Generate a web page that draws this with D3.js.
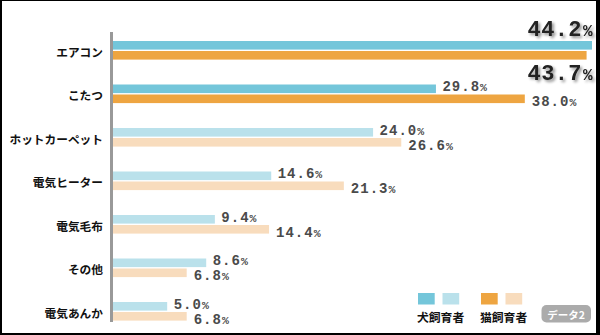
<!DOCTYPE html>
<html>
<head>
<meta charset="utf-8">
<script src="https://cdn.jsdelivr.net/npm/d3@7"></script>
<style>
  html, body { margin: 0; padding: 0; background: #fff; }
  svg { display: block; }
</style>
</head>
<body>
<div id="chart"></div>
<script>
// Heating appliances used by dog owners vs. cat owners (%)
const categories = ["エアコン", "こたつ", "ホットカーペット", "電気ヒーター", "電気毛布", "その他", "電気あんか"];
const dogValues = [44.2, 29.8, 24.0, 14.6, 9.4, 8.6, 5.0];
const catValues = [43.7, 38.0, 26.6, 21.3, 14.4, 6.8, 6.8];
const seriesNames = ["犬飼育者", "猫飼育者"];
const highlightCount = 2;   // top rows drawn in strong colours
const badgeText = "データ2";

const W = 600, H = 335;
const colors = {
  dogStrong: "#74C6DA", dogSoft: "#BAE1EB",
  catStrong: "#EEA541", catSoft: "#F8DCBD"
};

const svg = d3.select("#chart").append("svg")
  .attr("width", W).attr("height", H);

// frame
svg.append("rect").attr("x", 0).attr("y", 0).attr("width", W).attr("height", H).attr("fill", "#000");
svg.append("rect").attr("x", 2).attr("y", 1).attr("width", 594).attr("height", 332).attr("fill", "#fff");

const defs = svg.append("defs");
const shadow = defs.append("filter").attr("id", "txtShadow")
  .attr("x", "-20%").attr("y", "-40%").attr("width", "150%").attr("height", "200%");
shadow.append("feGaussianBlur").attr("in", "SourceAlpha").attr("stdDeviation", 1.4).attr("result", "b");
shadow.append("feOffset").attr("in", "b").attr("dx", 2).attr("dy", 2).attr("result", "o");
shadow.append("feComponentTransfer").attr("in", "o").attr("result", "s")
  .append("feFuncA").attr("type", "linear").attr("slope", 0.45);
const merge = shadow.append("feMerge");
merge.append("feMergeNode").attr("in", "s");
merge.append("feMergeNode").attr("in", "SourceGraphic");

const x = d3.scaleLinear().domain([0, 44.2]).range([113, 592]);
const step = 43.5;
const y = d3.scaleBand().domain(categories)
  .range([41, 41 + step * categories.length]).padding(0);

const barH = 8.6, catOffset = 10;
const rows = categories.map((c, i) => ({ cat: c, i, dog: dogValues[i], catV: catValues[i] }));

// category labels
svg.append("g").selectAll("text").data(rows).join("text")
  .attr("x", 103).attr("y", d => y(d.cat) + 10)
  .attr("text-anchor", "end").attr("dominant-baseline", "central")
  .attr("font-family", "'Noto Sans CJK JP', sans-serif")
  .attr("font-weight", "bold").attr("font-size", 11.7).attr("fill", "#111")
  .text(d => d.cat);

// bars
const g = svg.append("g");
g.selectAll("rect.dog").data(rows).join("rect").attr("class", "dog")
  .attr("x", x(0)).attr("y", d => y(d.cat))
  .attr("width", d => x(d.dog) - x(0)).attr("height", barH)
  .attr("fill", d => d.i < highlightCount ? colors.dogStrong : colors.dogSoft);
g.selectAll("rect.cat").data(rows).join("rect").attr("class", "cat")
  .attr("x", x(0)).attr("y", d => y(d.cat) + catOffset)
  .attr("width", d => x(d.catV) - x(0)).attr("height", barH)
  .attr("fill", d => d.i < highlightCount ? colors.catStrong : colors.catSoft);

// axis line
svg.append("line").attr("x1", 111.5).attr("x2", 111.5).attr("y1", 32).attr("y2", 322)
  .attr("stroke", "#999").attr("stroke-width", 3);

// value labels
function addLabel(sel, val, px, py, size, pctSize, fill, big) {
  const t = sel.append("text").attr("x", px).attr("y", py)
    .attr("font-family", "'Liberation Mono', 'Courier New', monospace")
    .attr("font-weight", "bold").attr("fill", fill)
    .attr("letter-spacing", big ? 0.4 : 1);
  if (big) t.attr("text-anchor", "end").attr("filter", "url(#txtShadow)");
  t.append("tspan").attr("font-size", size).text(val.toFixed(1));
  t.append("tspan").attr("font-size", pctSize).attr("dx", big ? 1 : 0).text("%");
}

const labels = svg.append("g");
rows.forEach(d => {
  const top = y(d.cat);
  if (d.i === 0) {
    addLabel(labels, d.dog, x(d.dog) + 1, top - 5.5, 22, 16, "#222", true);
    addLabel(labels, d.catV, x(d.dog) + 1, top + 39, 22, 16, "#222", true);
  } else {
    addLabel(labels, d.dog, x(d.dog) + 6.5, top + 6.5, 14, 11.5, "#4a4a4a", false);
    addLabel(labels, d.catV, x(d.catV) + 7, top + 21.5, 14, 11.5, "#4a4a4a", false);
  }
});

// legend
const legend = svg.append("g");
const legendItems = [
  { name: seriesNames[0], x0: 418, c: [colors.dogStrong, colors.dogSoft] },
  { name: seriesNames[1], x0: 481, c: [colors.catStrong, colors.catSoft] }
];
legendItems.forEach(it => {
  it.c.forEach((c, k) => {
    legend.append("rect").attr("x", it.x0 + k * 24.5).attr("y", 293)
      .attr("width", 16.7).attr("height", 11.5).attr("fill", c);
  });
  legend.append("text").attr("x", it.x0 - 1).attr("y", 316)
    .attr("dominant-baseline", "central")
    .attr("font-family", "'Noto Sans CJK JP', sans-serif")
    .attr("font-size", 11.8).attr("font-weight", "bold").attr("fill", "#111")
    .text(it.name);
});

// data badge
legend.append("rect").attr("x", 541.5).attr("y", 305).attr("width", 49.5).attr("height", 17.5)
  .attr("rx", 5).attr("fill", "#ababab");
legend.append("text").attr("x", 566).attr("y", 314).attr("text-anchor", "middle")
  .attr("dominant-baseline", "central")
  .attr("font-family", "'Noto Sans CJK JP', sans-serif")
  .attr("font-size", 10.5).attr("font-weight", "bold").attr("fill", "#fff")
  .text(badgeText);
</script>
</body>
</html>
